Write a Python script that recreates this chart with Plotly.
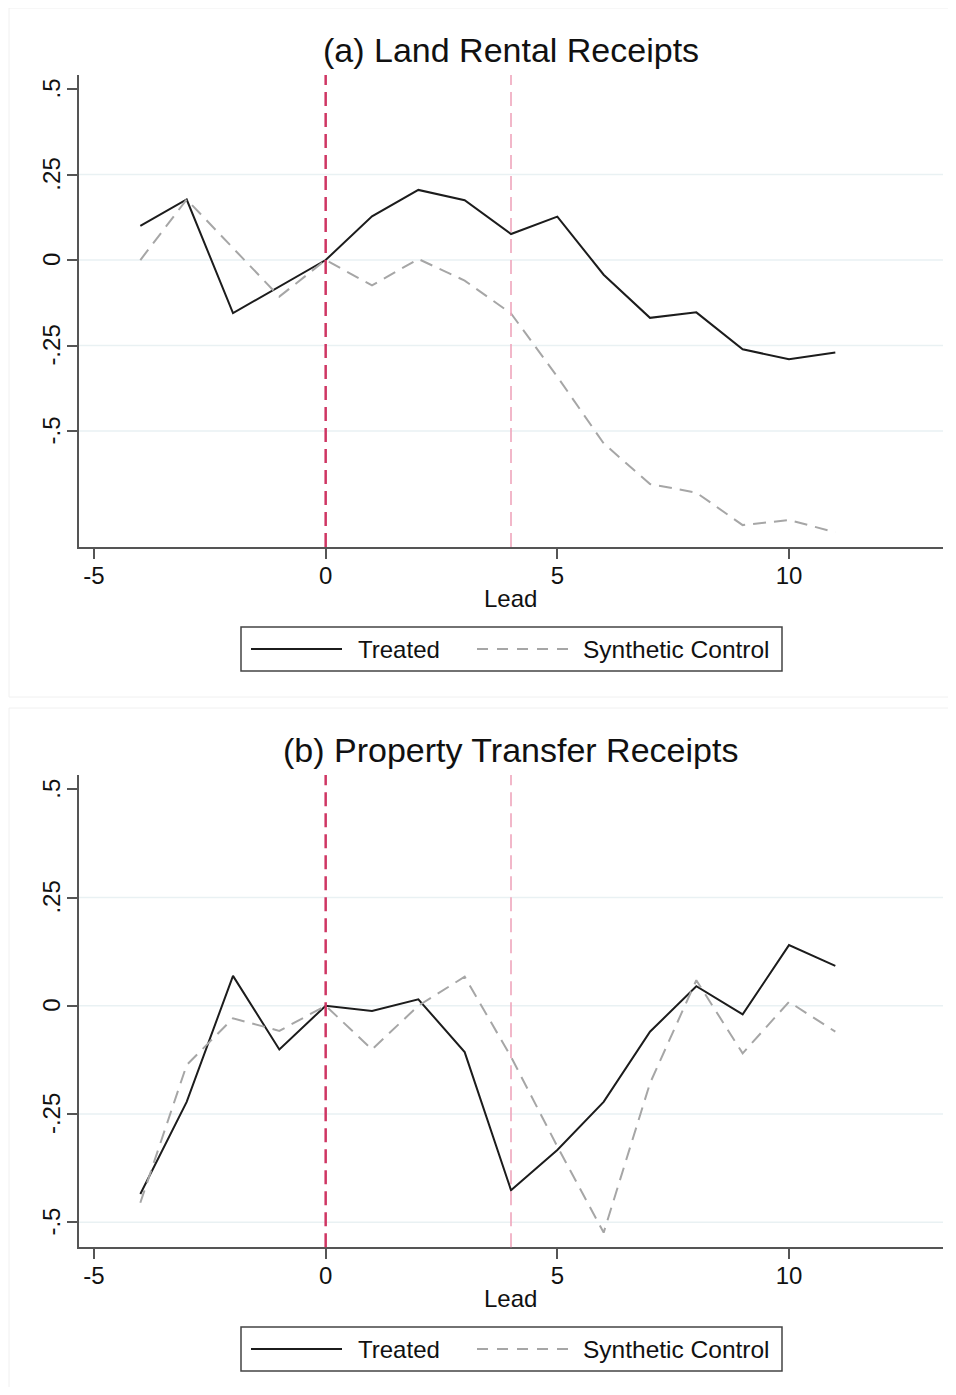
import plotly.graph_objects as go

# ---------------- data ----------------
leads = [-4, -3, -2, -1, 0, 1, 2, 3, 4, 5, 6, 7, 8, 9, 10, 11]

land_treated = [0.10, 0.177, -0.155, -0.078, 0.0, 0.128, 0.205, 0.175, 0.076,
                0.127, -0.043, -0.169, -0.153, -0.261, -0.29, -0.27]
land_synth = [0.0, 0.177, 0.035, -0.107, 0.0, -0.074, 0.003, -0.06, -0.156,
              -0.341, -0.536, -0.655, -0.68, -0.775, -0.76, -0.796]

prop_treated = [-0.435, -0.222, 0.069, -0.101, 0.0, -0.012, 0.015, -0.107, -0.426,
                -0.333, -0.222, -0.06, 0.045, -0.02, 0.14, 0.092]
prop_synth = [-0.455, -0.137, -0.029, -0.058, 0.0, -0.101, 0.0, 0.067, -0.118,
              -0.325, -0.524, -0.179, 0.059, -0.11, 0.009, -0.06]

panel_titles = ["(a) Land Rental Receipts", "(b) Property Transfer Receipts"]
series_names = ["Treated", "Synthetic Control"]
x_title = "Lead"
x_tickvals = [-5, 0, 5, 10]
x_ticktext = ["-5", "0", "5", "10"]
y_tickvals = [-0.5, -0.25, 0, 0.25, 0.5]
y_ticktext = ["-.5", "-.25", "0", ".25", ".5"]
grid_vals = [-0.5, -0.25, 0, 0.25]
event_leads = [0, 4]  # treatment start (crimson) and second marker (pink)

# ---------------- layout helpers ----------------
# the page body has a default 8px margin, so the figure is drawn 8px in
PAGE_W, PAGE_H, BODY = 956, 1395, 8
W, H = PAGE_W - 2 * BODY, PAGE_H - 2 * BODY
FONT = "Liberation Sans, Arial, sans-serif"


def px(x):
    return (x - BODY) / W


def py(y):
    return 1 - (y - BODY) / H


TREAT_COLOR = "#1c1c1c"
SYN_COLOR = "#a6a6a6"
AXIS_COLOR = "#555555"
GRID_COLOR = "#e9f1f3"
RED = "#cf3663"
PINK = "#efa6bc"

fig = go.Figure()

panels = [
    dict(tr=land_treated, sy=land_synth, off=0, yr=[-0.839, 0.541]),
    dict(tr=prop_treated, sy=prop_synth, off=700, yr=[-0.558, 0.533]),
]

shapes = []
annotations = []

for i, p in enumerate(panels):
    xa = "x" if i == 0 else "x2"
    ya = "y" if i == 0 else "y2"
    off = p["off"]
    fig.add_trace(go.Scatter(x=leads, y=p["tr"], mode="lines", name=series_names[0],
                             line=dict(color=TREAT_COLOR, width=2),
                             xaxis=xa, yaxis=ya, showlegend=False))
    fig.add_trace(go.Scatter(x=leads, y=p["sy"], mode="lines", name=series_names[1],
                             line=dict(color=SYN_COLOR, width=2, dash="13px,8px"),
                             xaxis=xa, yaxis=ya, showlegend=False))

    # faint outer frame of each graph
    shapes.append(dict(type="rect", xref="paper", yref="paper",
                       x0=px(9), x1=px(PAGE_W - 1), y0=py(off + 8),
                       y1=py(off + 697 if i == 0 else PAGE_H - 1),
                       line=dict(color="#f0f0f0", width=1), layer="below"))

    # gridlines
    for g in grid_vals:
        shapes.append(dict(type="line", xref=f"{xa} domain", yref=ya, x0=0, x1=1, y0=g, y1=g,
                           line=dict(color=GRID_COLOR, width=1.5), layer="below"))
    # event lines
    shapes.append(dict(type="line", xref=xa, yref=f"{ya} domain", x0=event_leads[0], x1=event_leads[0],
                       y0=0, y1=1, line=dict(color=RED, width=2.5, dash="14px,7px"), layer="above"))
    shapes.append(dict(type="line", xref=xa, yref=f"{ya} domain", x0=event_leads[1], x1=event_leads[1],
                       y0=0, y1=1, line=dict(color=PINK, width=1.6, dash="14px,7px"), layer="above"))

    # titles
    annotations.append(dict(text=panel_titles[i], xref="paper", yref="paper",
                            x=px(511), y=py(off + 71), xanchor="center", yanchor="bottom",
                            showarrow=False, font=dict(family=FONT, size=34, color="#111111")))
    annotations.append(dict(text=x_title, xref="paper", yref="paper",
                            x=px(511), y=py(off + 614), xanchor="center", yanchor="bottom",
                            showarrow=False, font=dict(family=FONT, size=24, color="#111111")))

    # legend (manual)
    shapes.append(dict(type="rect", xref="paper", yref="paper",
                       x0=px(241), x1=px(782), y0=py(off + 627), y1=py(off + 671),
                       line=dict(color="#444444", width=1.5), fillcolor="white"))
    shapes.append(dict(type="line", xref="paper", yref="paper",
                       x0=px(251), x1=px(342), y0=py(off + 649), y1=py(off + 649),
                       line=dict(color=TREAT_COLOR, width=2)))
    shapes.append(dict(type="line", xref="paper", yref="paper",
                       x0=px(477), x1=px(569), y0=py(off + 649), y1=py(off + 649),
                       line=dict(color=SYN_COLOR, width=2, dash="11px,9px")))
    annotations.append(dict(text=series_names[0], xref="paper", yref="paper",
                            x=px(356), y=py(off + 649), xanchor="left", yanchor="middle",
                            showarrow=False, font=dict(family=FONT, size=24, color="#111111")))
    annotations.append(dict(text=series_names[1], xref="paper", yref="paper",
                            x=px(581), y=py(off + 649), xanchor="left", yanchor="middle",
                            showarrow=False, font=dict(family=FONT, size=24.5, color="#111111")))

xaxis_common = dict(range=[-5.324, 13.324], tickvals=x_tickvals, ticktext=x_ticktext,
                    showgrid=False, zeroline=False, showline=True, linecolor=AXIS_COLOR,
                    linewidth=1.5, ticks="outside", ticklen=10, tickwidth=1.5,
                    tickcolor=AXIS_COLOR, tickfont=dict(family=FONT, size=24, color="#111111"),
                    ticklabelstandoff=-4)
yaxis_common = dict(tickvals=y_tickvals, ticktext=y_ticktext, tickangle=-90,
                    showgrid=False, zeroline=False, showline=True, linecolor=AXIS_COLOR,
                    linewidth=1.5, ticks="outside", ticklen=10, tickwidth=1.5,
                    tickcolor=AXIS_COLOR, tickfont=dict(family=FONT, size=24, color="#111111"),
                    ticklabelstandoff=-2, ticklabelshift=3)

fig.update_layout(
    width=W, height=H,
    margin=dict(l=0, r=0, t=0, b=0),
    paper_bgcolor="white", plot_bgcolor="white",
    showlegend=False,
    xaxis=dict(domain=[px(79), px(943)], anchor="y", **xaxis_common),
    yaxis=dict(domain=[py(547), py(75)], anchor="x", range=panels[0]["yr"], **yaxis_common),
    xaxis2=dict(domain=[px(79), px(943)], anchor="y2", **xaxis_common),
    yaxis2=dict(domain=[py(1247.3), py(775)], anchor="x2", range=panels[1]["yr"], **yaxis_common),
    shapes=shapes,
    annotations=annotations,
)

fig.write_html("out.html")
